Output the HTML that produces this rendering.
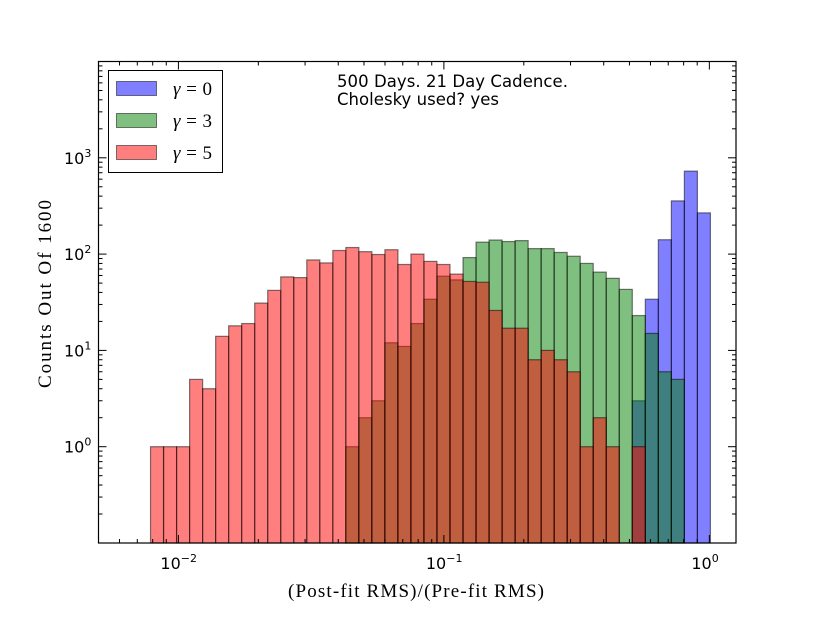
<!DOCTYPE html>
<html><head><meta charset="utf-8"><style>
body{margin:0;background:#fff}
svg{display:block}
.sans{font-family:"DejaVu Sans","Liberation Sans",sans-serif}
.serif{font-family:"Liberation Serif","DejaVu Serif",serif}
</style></head><body>
<svg id="chart" width="817" height="617" viewBox="0 0 817 617" xmlns="http://www.w3.org/2000/svg">
<rect x="0" y="0" width="817" height="617" fill="#fff"/>
<g id="bars"></g>
<rect x="98.5" y="61.5" width="637.5" height="481.5" fill="none" stroke="#000" stroke-width="1.2"/>
<g id="ticks"></g>
<text class="sans" x="337" y="87" font-size="16.5" textLength="231">500 Days. 21 Day Cadence.</text>
<text class="sans" x="337" y="105" font-size="16.5" textLength="162">Cholesky used? yes</text>
<g>
<rect x="108.5" y="70.5" width="114" height="102" fill="#fff" stroke="#000" stroke-width="1"/>
<rect x="116.5" y="81.5" width="40" height="14" fill="rgba(0,0,255,0.5)" stroke="rgba(0,0,0,0.5)"/>
<rect x="116.5" y="113.5" width="40" height="14" fill="rgba(0,128,0,0.5)" stroke="rgba(0,0,0,0.5)"/>
<rect x="116.5" y="145.5" width="40" height="14" fill="rgba(255,0,0,0.5)" stroke="rgba(0,0,0,0.5)"/>
<text class="serif" x="173" y="95" font-size="19" textLength="39"><tspan font-style="italic">γ</tspan>=0</text>
<text class="serif" x="173" y="127" font-size="19" textLength="39"><tspan font-style="italic">γ</tspan>=3</text>
<text class="serif" x="173" y="159" font-size="19" textLength="39"><tspan font-style="italic">γ</tspan>=5</text>
</g>
<text class="serif" x="288" y="597" font-size="19" textLength="256">(Post-fit RMS)/(Pre-fit RMS)</text>
<text class="serif" transform="translate(51,388) rotate(-90)" font-size="19" textLength="188">Counts Out Of 1600</text>
</svg>
<script>
const binStartLog = -2.105;
const binEndLog = 0.004;
const gamma0Counts = [0,0,0,0,0,0,0,0,0,0,0,0,0,0,0,0,0,0,0,0,0,0,0,0,0,0,0,0,0,0,0,0,0,0,0,0,0,3,34,141,357,727,268];
const gamma3Counts = [0,0,0,0,0,0,0,0,0,0,0,0,0,0,0,1,2,3,12,11,19,34,59,54,92,133,140,135,138,114,114,104,95,80,65,56,43,23,15,6,5,0,0];
const gamma5Counts = [1,1,1,5,4,14,18,19,31,42,58,57,87,81,109,117,106,99,111,78,100,84,78,62,52,51,26,17,17,8,10,8,6,1,2,1,0,1,0,0,0,0,0];
const xTickLabels = ["-2","-1","0"];
const yTickLabels = ["0","1","2","3"];

const NS = "http://www.w3.org/2000/svg";
const X0 = 98.5, X1 = 736, Y0 = 61.5, Y1 = 543;
const xMinLog = Math.log10(0.005), xMaxLog = Math.log10(1.26);
const yMinLog = -1, yMaxLog = 4;
function xs(l){return X0 + (l - xMinLog)/(xMaxLog - xMinLog)*(X1 - X0);}
function ys(l){return Y1 - (l - yMinLog)/(yMaxLog - yMinLog)*(Y1 - Y0);}
function mk(tag, attrs){const e=document.createElementNS(NS,tag);for(const k in attrs)e.setAttribute(k,attrs[k]);return e;}

const barsG = document.getElementById('bars');
const n = gamma5Counts.length;
const bw = (binEndLog - binStartLog)/n;
const series = [
  {d:gamma0Counts, fill:"rgba(0,0,255,0.5)", name:"gamma0"},
  {d:gamma3Counts, fill:"rgba(0,128,0,0.5)", name:"gamma3"},
  {d:gamma5Counts, fill:"rgba(255,0,0,0.5)", name:"gamma5"}
];
series.forEach(s=>{
  s.d.forEach((v,i)=>{
    if(v<=0) return;
    const xa = xs(binStartLog + i*bw), xb = xs(binStartLog + (i+1)*bw);
    const yt = ys(Math.log10(v));
    const r = mk('rect',{x:xa,y:yt,width:xb-xa,height:Y1-yt,fill:s.fill,stroke:"rgba(0,0,0,0.5)","stroke-width":1.2});
    
    
    barsG.appendChild(r);
  });
});

const tg = document.getElementById('ticks');
function line(x1,y1,x2,y2,nm){const l=mk('line',{x1,y1,x2,y2,stroke:"#000","stroke-width":1});tg.appendChild(l);}
for(let d=-3; d<=0; d++){
  for(let m=1;m<10;m++){
    const l = d + Math.log10(m);
    if(l<xMinLog||l>xMaxLog) continue;
    const x = xs(l), len = m===1?8:4;
    line(x,Y1,x,Y1-len,'x-tick');
    line(x,Y0,x,Y0+len,'x-tick-top');
  }
}
xTickLabels.forEach(t=>{
  const x = xs(parseFloat(t));
  const tx = mk('text',{x:x-18,y:569,"font-size":16,"class":"sans"});
  tx.textContent = "10";
  const sp = mk('tspan',{dy:-7,"font-size":11}); sp.textContent = t.replace('-','\u2212'); tx.appendChild(sp);
  
  
  tg.appendChild(tx);
});
for(let d=-1; d<=3; d++){
  for(let m=1;m<10;m++){
    const l = d + Math.log10(m);
    if(l<yMinLog||l>yMaxLog) continue;
    const y = ys(l), len = m===1?8:4;
    line(X0,y,X0+len,y,'y-tick');
    line(X1,y,X1-len,y,'y-tick-right');
  }
}
yTickLabels.forEach(t=>{
  const y = ys(parseFloat(t));
  const tx = mk('text',{x:64,y:y+6,"font-size":16,"class":"sans"});
  tx.textContent = "10";
  const sp = mk('tspan',{dy:-7,"font-size":11}); sp.textContent = t; tx.appendChild(sp);
  
  
  tg.appendChild(tx);
});
</script>
</body></html>
